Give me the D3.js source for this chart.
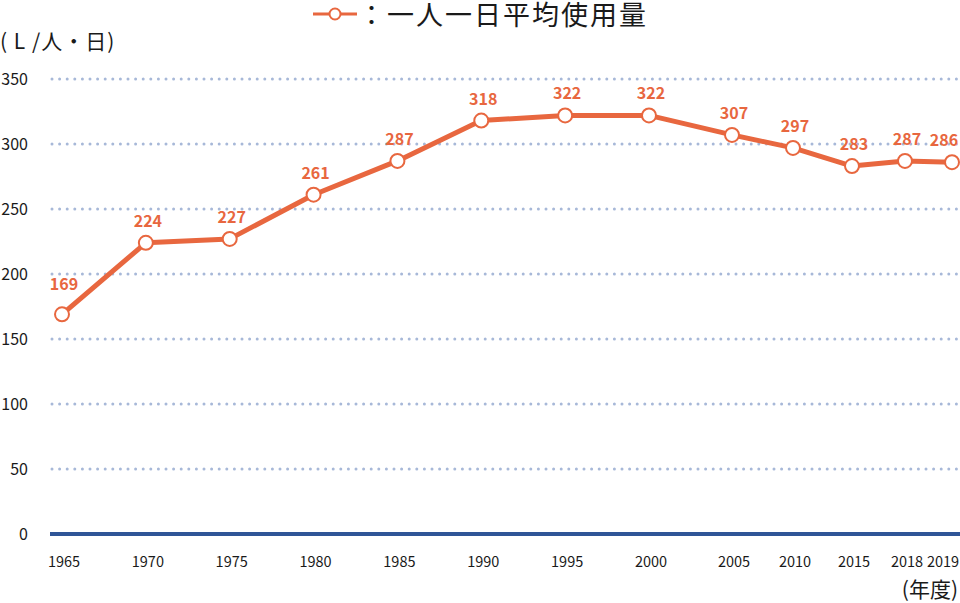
<!DOCTYPE html>
<html>
<head>
<meta charset="utf-8">
<script src="https://cdn.jsdelivr.net/npm/d3@7"></script>
<style>
  body { margin: 0; background: #fff; }
  text { font-family: "Noto Sans CJK JP", "Noto Sans", sans-serif; }
</style>
</head>
<body>
<div id="chart"></div>
<script>
const years = [1965, 1970, 1975, 1980, 1985, 1990, 1995, 2000, 2005, 2010, 2015, 2018, 2019]
const usage = [169, 224, 227, 261, 287, 318, 322, 322, 307, 297, 283, 287, 286]
const yTicks = [0, 50, 100, 150, 200, 250, 300, 350]
const seriesName = '：一人一日平均使用量'
const unitLabel = '( L /人・日)'
const xUnitLabel = '(年度)'

const width = 960,
  height = 603
const orange = '#e8673f'

const data = years.map((y, i) => ({ year: y, value: usage[i] }))

// x axis breaks are uneven in the original, so use a piecewise scale
const xScale = d3.scaleLinear()
  .domain([1965, 2000, 2005, 2010, 2015, 2018, 2019])
  .range([62, 649, 732, 793, 852, 905, 952])

const yScale = d3.scaleLinear()
  .domain([0, 350])
  .range([534, 79])

const svg = d3.select('#chart')
  .append('svg')
  .attr('width', width)
  .attr('height', height)

// dotted grid lines
svg.append('g')
  .selectAll('line')
  .data(yTicks.filter(d => d > 0))
  .enter()
  .append('line')
  .attr('x1', 52)
  .attr('x2', width)
  .attr('y1', d => yScale(d))
  .attr('y2', d => yScale(d))
  .attr('stroke', '#a7b8d8')
  .attr('stroke-width', 3)
  .attr('stroke-linecap', 'round')
  .attr('stroke-dasharray', '0,7.6')

// baseline
svg.append('line')
  .attr('x1', 50)
  .attr('x2', width)
  .attr('y1', yScale(0))
  .attr('y2', yScale(0))
  .attr('stroke', '#2f5597')
  .attr('stroke-width', 4)

// y labels
svg.append('g')
  .selectAll('text')
  .data(yTicks)
  .enter()
  .append('text')
  .attr('x', 28)
  .attr('y', d => yScale(d))
  .attr('dy', '0.36em')
  .attr('text-anchor', 'end')
  .attr('font-size', '16px')
  .attr('fill', '#1a1a1a')
  .text(d => d)

// x labels
svg.append('g')
  .selectAll('text')
  .data(years)
  .enter()
  .append('text')
  .attr('x', d => Math.min(xScale(d) + 2, 943))
  .attr('y', 567)
  .attr('text-anchor', 'middle')
  .attr('font-size', '14.5px')
  .attr('fill', '#1a1a1a')
  .text(d => d)

svg.append('text')
  .attr('x', 958)
  .attr('y', 597)
  .attr('text-anchor', 'end')
  .attr('font-size', '21px')
  .attr('fill', '#1a1a1a')
  .text(xUnitLabel)

svg.append('text')
  .attr('x', 0)
  .attr('y', 49)
  .attr('font-size', '21px')
  .attr('letter-spacing', '1px')
  .attr('fill', '#1a1a1a')
  .text(unitLabel)

// line
const line = d3.line()
  .x(d => xScale(d.year))
  .y(d => yScale(d.value))

svg.append('path')
  .datum(data)
  .attr('d', line)
  .attr('fill', 'none')
  .attr('stroke', orange)
  .attr('stroke-width', 5)
  .attr('stroke-linejoin', 'round')

svg.append('g')
  .selectAll('circle')
  .data(data)
  .enter()
  .append('circle')
  .attr('cx', d => xScale(d.year))
  .attr('cy', d => yScale(d.value))
  .attr('r', 7)
  .attr('fill', '#fff')
  .attr('stroke', orange)
  .attr('stroke-width', 2)

svg.append('g')
  .selectAll('text')
  .data(data)
  .enter()
  .append('text')
  .attr('x', d => Math.min(xScale(d.year) + 2, 944))
  .attr('y', (d, i) => yScale(d.value) - (i === 0 ? 24 : 16))
  .attr('text-anchor', 'middle')
  .attr('font-size', '16px')
  .attr('font-weight', 'bold')
  .attr('fill', orange)
  .text(d => d.value)

// legend
const legend = svg.append('g')
legend.append('line')
  .attr('x1', 313)
  .attr('x2', 357)
  .attr('y1', 14)
  .attr('y2', 14)
  .attr('stroke', orange)
  .attr('stroke-width', 3)
legend.append('circle')
  .attr('cx', 335)
  .attr('cy', 14)
  .attr('r', 5.5)
  .attr('fill', '#fff')
  .attr('stroke', orange)
  .attr('stroke-width', 2)
legend.append('text')
  .attr('x', 358)
  .attr('y', 25)
  .attr('font-size', '27px')
  .attr('letter-spacing', '2px')
  .attr('fill', '#1a1a1a')
  .text(seriesName)
</script>
</body>
</html>
